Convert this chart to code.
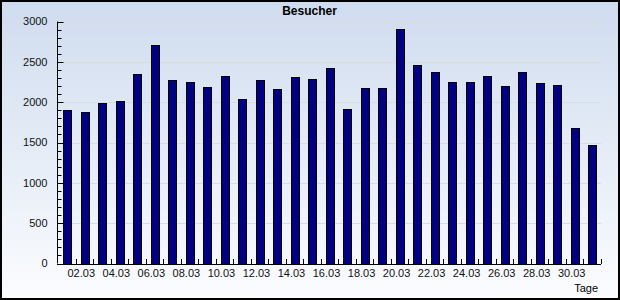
<!DOCTYPE html>
<html>
<head>
<meta charset="utf-8">
<script src="https://cdn.jsdelivr.net/npm/d3@7"></script>
<style>
  body { margin: 0; }
  svg { display: block; font-family: 'Liberation Sans', Arial, sans-serif; }
</style>
</head>
<body>
<div id="viz"></div>
<script>
const days = d3.range(1, 32).map((d) => String(d).padStart(2, '0') + '.03');
const visitors = [
    1900, 1875, 1990, 2015, 2350, 2710, 2275, 2250, 2190, 2325,
    2040, 2275, 2165, 2310, 2285, 2425, 1915, 2175, 2175, 2905,
    2460, 2375, 2250, 2250, 2325, 2200, 2375, 2240, 2215, 1680,
    1470,
];
const yTicks = [0, 500, 1000, 1500, 2000, 2500, 3000];
const title = 'Besucher';
const xTitle = 'Tage';

const width = 620;
const height = 300;
const margin = { top: 21.5, right: 19, bottom: 36.5, left: 58 };

const svg = d3
    .select('#viz')
    .append('svg')
    .attr('width', width)
    .attr('height', height);

// background gradient
const grad = svg
    .append('defs')
    .append('linearGradient')
    .attr('id', 'bg')
    .attr('x1', 0)
    .attr('y1', 0)
    .attr('x2', 0)
    .attr('y2', 1);
grad.append('stop').attr('offset', '0%').attr('stop-color', '#cfdcef');
grad.append('stop').attr('offset', '100%').attr('stop-color', '#fbfcfe');

svg.append('rect')
    .attr('x', 1)
    .attr('y', 1)
    .attr('width', width - 2)
    .attr('height', height - 2)
    .attr('fill', 'url(#bg)')
    .attr('stroke', '#000')
    .attr('stroke-width', 2);

const x = d3
    .scaleBand()
    .domain(days)
    .range([margin.left, width - margin.right])
    .paddingInner(0.57)
    .paddingOuter(0.285);

const y = d3
    .scaleLinear()
    .domain([0, 3000])
    .range([height - margin.bottom, margin.top]);

// grid
svg.append('g')
    .selectAll('line')
    .data(yTicks.slice(1))
    .join('line')
    .attr('x1', margin.left)
    .attr('x2', width - margin.right)
    .attr('y1', (d) => Math.round(y(d)) + 0.5)
    .attr('y2', (d) => Math.round(y(d)) + 0.5)
    .attr('stroke', '#dcdcdc');

// bars
svg.append('g')
    .selectAll('rect')
    .data(visitors)
    .join('rect')
    .attr('x', (d, i) => Math.round(x(days[i])) + 0.5)
    .attr('y', (d) => Math.round(y(d)) + 0.5)
    .attr('width', Math.round(x.bandwidth()))
    .attr('height', (d) => Math.round(y(0)) - Math.round(y(d)))
    .attr('fill', '#000080')
    .attr('stroke', '#000')
    .attr('stroke-width', 1);

// y axis
const yAxis = svg.append('g').attr('transform', `translate(${margin.left - 0.5},0)`);
yAxis.append('line')
    .attr('y1', y(3000))
    .attr('y2', y(0))
    .attr('stroke', '#000');
yAxis.selectAll('line.minor')
    .data(d3.range(0, 3001, 100))
    .join('line')
    .attr('class', 'minor')
    .attr('x1', 0)
    .attr('x2', (d) => (d % 500 === 0 ? 6 : 4))
    .attr('y1', (d) => Math.round(y(d)) + 0.5)
    .attr('y2', (d) => Math.round(y(d)) + 0.5)
    .attr('stroke', '#000');
yAxis.selectAll('text')
    .data(yTicks)
    .join('text')
    .attr('x', -10)
    .attr('y', (d) => y(d))
    .attr('dy', '0.35em')
    .attr('text-anchor', 'end')
    .attr('font-size', 11)
    .attr('fill', '#111')
    .text((d) => d);

// x axis
const step = x.step();
const xAxis = svg.append('g');
xAxis.append('line')
    .attr('x1', margin.left - 1)
    .attr('x2', width - margin.right)
    .attr('y1', Math.round(y(0)) + 0.5)
    .attr('y2', Math.round(y(0)) + 0.5)
    .attr('stroke', '#000');
xAxis.selectAll('line.tick')
    .data(days)
    .join('line')
    .attr('class', 'tick')
    .attr('x1', (d) => Math.round(x(d) - x.paddingOuter() * step + step) + 0.5)
    .attr('x2', (d) => Math.round(x(d) - x.paddingOuter() * step + step) + 0.5)
    .attr('y1', Math.round(y(0)))
    .attr('y2', Math.round(y(0)) - 5)
    .attr('stroke', '#000');
xAxis.selectAll('text')
    .data(days.filter((d, i) => i % 2 === 1))
    .join('text')
    .attr('x', (d) => x(d) + x.bandwidth() / 2 - 3)
    .attr('y', 277)
    .attr('text-anchor', 'middle')
    .attr('font-size', 11)
    .attr('fill', '#111')
    .text((d) => d);

svg.append('text')
    .attr('x', 309.5)
    .attr('y', 15)
    .attr('text-anchor', 'middle')
    .attr('font-size', 12)
    .attr('font-weight', 'bold')
    .text(title);

svg.append('text')
    .attr('x', 598)
    .attr('y', 292)
    .attr('text-anchor', 'end')
    .attr('font-size', 11)
    .text(xTitle);
</script>
</body>
</html>
